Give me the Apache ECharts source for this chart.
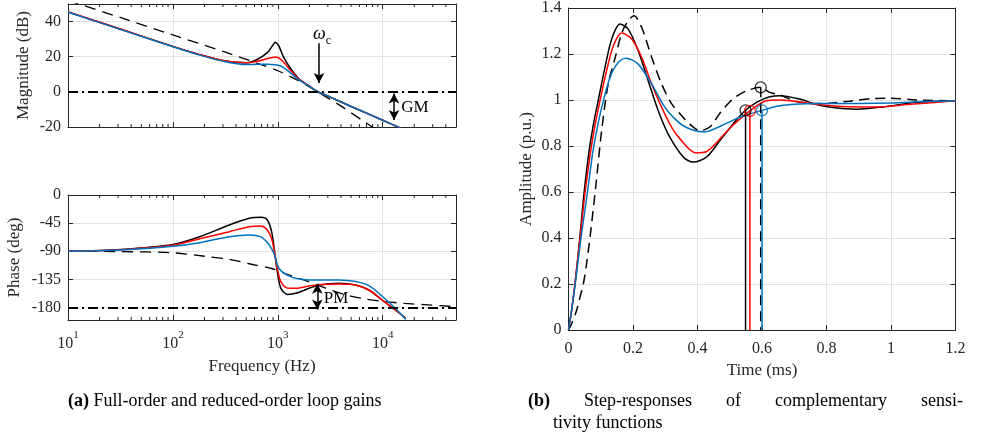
<!DOCTYPE html>
<html><head><meta charset="utf-8">
<script src="https://cdn.jsdelivr.net/npm/echarts@6/dist/echarts.min.js"></script>
<style>html,body{margin:0;padding:0;background:#fff}#c{width:983px;height:441px}</style>
</head><body><div id="c"></div>
<script>
// ---------------- data ----------------
var magFreq  = [10, 32, 100, 180, 316, 500, 630, 800, 890, 945, 1000, 1030, 1120, 1280, 1580, 2000, 2380, 3160, 5000, 7940, 12600, 20000];
var magBlack = [45.5, 35.6, 25.9, 21.2, 17.5, 16.6, 18.3, 22.5, 26.3, 28.2, 27.0, 25.9, 20.5, 14.6, 7.6, 3.2, 0.2, -3.0, -8.3, -13.5, -18.8, -24.0];
var magRed   = [45.5, 35.6, 25.9, 21.2, 17.5, 16.5, 17.3, 19.0, 19.6, 19.8, 19.6, 19.2, 17.3, 13.2, 7.4, 3.2, 0.2, -3.0, -8.3, -13.5, -18.8, -24.0];
var magBlue  = [45.3, 35.4, 25.7, 20.9, 17.1, 15.5, 15.7, 15.7, 15.5, 15.4, 15.2, 15.0, 14.1, 11.5, 7.0, 3.1, 0.2, -3.0, -8.3, -13.5, -18.8, -24.0];
var magRefFreq = [10, 32, 100, 316, 630, 1000, 1580, 2510, 3980, 6310, 10000];
var magRef     = [52, 42.2, 32.4, 22.6, 16.4, 12.0, 6.3, -0.7, -8.0, -16.0, -24.0];

var phFreq  = [10, 32, 100, 180, 345, 535, 690, 795, 880, 945, 995, 1070, 1240, 1480, 1990, 2470, 3830, 5520, 7380, 9890, 13200, 16600];
var phBlack = [-90, -87, -79, -66.7, -48, -37.3, -35.7, -40, -61.3, -98.7, -125.3, -149.3, -159, -157.3, -149.3, -144, -141.3, -144, -152, -168, -184, -197.3];
var phRed   = [-90, -87.5, -80.5, -70, -58.7, -50.7, -49.6, -56, -72, -98.7, -120, -138.7, -149, -149.3, -145.6, -143.5, -142.4, -144, -152, -168, -184, -197.3];
var phBlue  = [-90, -88, -82, -76.3, -66.7, -64, -67, -76, -87, -98.7, -113, -121, -128.5, -133.3, -136, -136, -136, -138.5, -145, -162, -181.3, -199];
var phRefFreq = [10, 32, 100, 200, 345, 535, 890, 1190, 1850, 2860, 4430, 6860, 10600, 16400, 25000, 50000];
var phRef     = [-90, -90.5, -92.5, -98, -103, -110, -118, -126, -137, -149, -159.5, -166.5, -170.7, -173.5, -175.5, -178.5];

var minorFreqs = [20,30,40,50,60,70,80,90,200,300,400,500,600,700,800,900,2000,3000,4000,5000,6000,7000,8000,9000,20000,30000,40000];
var magTicks = [-20, 0, 20, 40];
var phTicks  = [-180, -135, -90, -45, 0];

var tBlack = [0, 0.01, 0.02, 0.035, 0.0485, 0.065, 0.08, 0.0924, 0.113, 0.134, 0.1596, 0.185, 0.216, 0.247, 0.278, 0.309, 0.356, 0.387, 0.428, 0.469, 0.51, 0.547, 0.583, 0.624, 0.655, 0.717, 0.769, 0.82, 0.893, 0.975, 1.079, 1.2];
var aBlack = [0, 0.09, 0.2, 0.4, 0.6, 0.79, 0.915, 1.0, 1.141, 1.265, 1.33, 1.308, 1.214, 1.084, 0.954, 0.852, 0.752, 0.73, 0.752, 0.823, 0.895, 0.953, 0.99, 1.014, 1.019, 1.004, 0.98, 0.967, 0.96, 0.97, 0.99, 0.997];
var tRed = [0, 0.01, 0.02, 0.036, 0.0516, 0.07, 0.085, 0.0976, 0.118, 0.139, 0.165, 0.196, 0.227, 0.258, 0.289, 0.32, 0.3455, 0.395, 0.428, 0.469, 0.51, 0.5625, 0.614, 0.655, 0.759, 0.85, 0.95, 1.05, 1.2];
var aRed = [0, 0.09, 0.2, 0.4, 0.6, 0.79, 0.91, 0.997, 1.127, 1.235, 1.291, 1.265, 1.185, 1.069, 0.968, 0.881, 0.831, 0.77, 0.776, 0.83, 0.89, 0.953, 0.997, 1.0, 0.983, 0.972, 0.97, 0.98, 0.997];
var tBlue = [0, 0.01, 0.02, 0.0387, 0.0589, 0.075, 0.09, 0.103, 0.1286, 0.154, 0.178, 0.216, 0.258, 0.299, 0.33, 0.356, 0.39, 0.423, 0.469, 0.531, 0.6, 0.655, 0.72, 0.8, 0.9, 1.0, 1.1, 1.2];
var aBlue = [0, 0.09, 0.19, 0.4, 0.6, 0.77, 0.885, 0.968, 1.098, 1.163, 1.182, 1.156, 1.069, 0.968, 0.918, 0.888, 0.867, 0.861, 0.885, 0.925, 0.955, 0.975, 0.983, 0.985, 0.985, 0.987, 0.993, 0.997];
var tRef = [0, 0.01, 0.025, 0.0356, 0.046, 0.056, 0.069, 0.0857, 0.103, 0.123, 0.144, 0.165, 0.185, 0.203, 0.227, 0.258, 0.289, 0.32, 0.351, 0.38, 0.4075, 0.44, 0.469, 0.494, 0.516, 0.552, 0.596, 0.624, 0.655, 0.686, 0.717, 0.8, 0.87, 0.95, 1.0, 1.08, 1.2];
var aRef = [0, 0.028, 0.085, 0.143, 0.2, 0.288, 0.43, 0.64, 0.87, 1.07, 1.18, 1.29, 1.345, 1.366, 1.315, 1.185, 1.069, 0.983, 0.932, 0.89, 0.866, 0.885, 0.942, 0.983, 1.011, 1.04, 1.055, 1.033, 1.023, 1.004, 0.99, 0.985, 0.995, 1.007, 1.008, 1.0, 0.997];

var settleT = [0.549, 0.5625, 0.6, 0.596];
var settleA = [0.955, 0.953, 0.955, 1.055];

// annotation anchors (data coordinates)
var wcArrow = {f: 2470, from: 27.7, to: 5};
var gmArrow = {f: 12830, from: -1, to: -16};
var pmArrow = {f: 2380, from: -142, to: -183};
var wcText = [2640, 31.8], gmText = [20300, -9.2], pmText = [3590, -166.4];

var captionA = ['(a)', 'Full-order and reduced-order loop gains'];
var captionB1 = ['(b)', 'Step-responses', 'of', 'complementary', 'sensi-'];
var captionB2 = 'tivity functions';

// ---------------- styles ----------------
var FONT = 'Liberation Serif';
var AX = '#262626', GRIDC = '#e2e2e2';
var BLACK = '#000000', RED = '#ff0000', BLUE = '#0072bd';
var settleColors = [BLACK, RED, BLUE, BLACK];
var settleDashed = [false, false, false, true];
var DASH = [11, 7], DASHDOT = [10, 4, 2, 4];

function zip(x, y) { return x.map(function (v, i) { return [v, y[i]]; }); }

function logX(gi, pos, showLabel, name, gap) {
  return {
    type: 'log', logBase: 10, gridIndex: gi, position: pos, min: 10, max: 50000,
    axisLine: {show: true, onZero: false, lineStyle: {color: AX, width: 1}},
    axisTick: {show: true, inside: true, length: 5, lineStyle: {color: AX}},
    axisLabel: {
      show: showLabel, margin: 10, color: AX, fontFamily: FONT, fontSize: 16,
      formatter: function (v) {
        var e = Math.log(v) / Math.LN10;
        if (Math.abs(e - Math.round(e)) > 1e-6) return '';
        return '{b|10}{s|' + Math.round(e) + '}';
      },
      rich: {
        b: {fontFamily: FONT, fontSize: 16, color: AX, lineHeight: 22, verticalAlign: 'bottom'},
        s: {fontFamily: FONT, fontSize: 11, color: AX, lineHeight: 22, verticalAlign: 'top'}
      }
    },
    splitLine: {show: pos === 'bottom', lineStyle: {color: GRIDC, width: 1}},
    name: name || '', nameLocation: 'middle', nameGap: gap || 0,
    nameTextStyle: {fontFamily: FONT, fontSize: 17, color: AX}
  };
}
function valAx(gi, pos, min, max, ticks, interval, showLabel, name, gap, margin) {
  var o = {
    type: 'value', gridIndex: gi, position: pos, min: min, max: max,
    axisLine: {show: true, onZero: false, lineStyle: {color: AX, width: 1}},
    axisTick: {show: true, inside: true, length: 5, lineStyle: {color: AX}},
    axisLabel: {show: showLabel, margin: margin || 7, color: AX, fontFamily: FONT, fontSize: 16},
    splitLine: {show: pos === 'left' || pos === 'bottom', lineStyle: {color: GRIDC, width: 1}},
    name: name || '', nameLocation: 'middle', nameGap: gap || 0,
    nameTextStyle: {fontFamily: FONT, fontSize: 17, color: AX}
  };
  if (ticks) { o.axisTick.customValues = ticks; o.axisLabel.customValues = ticks; }
  if (interval) o.interval = interval;
  return o;
}
function lineS(xi, yi, data, color, type, width, z) {
  return {type: 'line', xAxisIndex: xi, yAxisIndex: yi, data: data, symbol: 'none', showSymbol: false,
    smooth: 0.3, silent: true, animation: false, z: z || 2,
    lineStyle: {color: color, width: width || 1.5, type: type || 'solid'}};
}
function minorS(xi, yi, yv) {
  return {
    type: 'custom', xAxisIndex: xi, yAxisIndex: yi, silent: true, animation: false, z: 6, clip: false,
    data: minorFreqs.map(function (f) { return [f, yv]; }),
    renderItem: function (params, api) {
      var x = api.coord([api.value(0), api.value(1)])[0];
      var cs = params.coordSys;
      return {type: 'group', children: [
        {type: 'line', shape: {x1: x, y1: cs.y + cs.height, x2: x, y2: cs.y + cs.height - 3}, style: {stroke: AX, lineWidth: 1}},
        {type: 'line', shape: {x1: x, y1: cs.y, x2: x, y2: cs.y + 3}, style: {stroke: AX, lineWidth: 1}}
      ]};
    }
  };
}
function annoS(xi, yi, lines, points) {
  return {
    type: 'line', xAxisIndex: xi, yAxisIndex: yi, data: [], silent: true, animation: false, z: 8,
    markLine: {silent: true, animation: false, symbol: 'none', label: {show: false}, emphasis: {disabled: true}, data: lines},
    markPoint: {silent: true, animation: false, symbol: 'rect', symbolSize: 1, itemStyle: {color: 'rgba(0,0,0,0)'}, data: points || []}
  };
}
function arrowLine(f, a, b, both) {
  return [
    {coord: [f, a], symbol: both ? 'arrow' : 'none', symbolSize: [8, 10], lineStyle: {color: BLACK, width: 1.5, type: 'solid'}},
    {coord: [f, b], symbol: 'arrow', symbolSize: [8, 10]}
  ];
}
function textPt(c, fmt, rich) {
  return {coord: c, label: {show: true, position: 'inside', formatter: fmt, color: BLACK, fontFamily: FONT, fontSize: 17, rich: rich || {}}};
}

var series = [
  // magnitude
  lineS(0, 0, zip(magRefFreq, magRef), BLACK, DASH, 1.3, 2),
  lineS(0, 0, zip(magFreq, magBlack), BLACK, 'solid', 1.5, 3),
  lineS(0, 0, zip(magFreq, magRed), RED, 'solid', 1.5, 3),
  lineS(0, 0, zip(magFreq, magBlue), BLUE, 'solid', 1.5, 3),
  annoS(0, 0, [
    {yAxis: 0, lineStyle: {color: BLACK, width: 2, type: DASHDOT}},
    arrowLine(wcArrow.f, wcArrow.from, wcArrow.to, false),
    arrowLine(gmArrow.f, gmArrow.from, gmArrow.to, true)
  ], [
    textPt(wcText, '{w|ω}{c|c}', {w: {fontFamily: FONT, fontSize: 18, fontStyle: 'italic', color: BLACK, lineHeight: 22, verticalAlign: 'top'}, c: {fontFamily: FONT, fontSize: 12, color: BLACK, lineHeight: 22, verticalAlign: 'bottom'}}),
    textPt(gmText, 'GM')
  ]),
  minorS(0, 0, 0),
  // phase
  lineS(2, 2, zip(phRefFreq, phRef), BLACK, DASH, 1.3, 2),
  lineS(2, 2, zip(phFreq, phBlack), BLACK, 'solid', 1.5, 3),
  lineS(2, 2, zip(phFreq, phRed), RED, 'solid', 1.5, 3),
  lineS(2, 2, zip(phFreq, phBlue), BLUE, 'solid', 1.5, 3),
  annoS(2, 2, [
    {yAxis: -180, lineStyle: {color: BLACK, width: 2, type: DASHDOT}},
    arrowLine(pmArrow.f, pmArrow.from, pmArrow.to, true)
  ], [textPt(pmText, 'PM')]),
  minorS(2, 2, -100),
  // step
  lineS(4, 4, zip(tRef, aRef), BLACK, [10, 6], 1.5, 2),
  lineS(4, 4, zip(tBlack, aBlack), BLACK, 'solid', 1.5, 3),
  lineS(4, 4, zip(tRed, aRed), RED, 'solid', 1.5, 3),
  lineS(4, 4, zip(tBlue, aBlue), BLUE, 'solid', 1.5, 3)
];
// settling markers: vertical lines and circles
[3, 0, 1, 2].forEach(function (i) {
  var s = lineS(4, 4, [[settleT[i], settleA[i]], [settleT[i], 0]], settleColors[i], settleDashed[i] ? [10, 6] : 'solid', 1.5, 4);
  s.smooth = false;
  series.push(s);
});
series.push({
  type: 'scatter', xAxisIndex: 4, yAxisIndex: 4, silent: true, animation: false, z: 5,
  symbol: 'circle', symbolSize: 11,
  data: settleT.map(function (t, i) {
    return {value: [t, settleA[i]], itemStyle: {color: 'rgba(0,0,0,0)', borderColor: settleColors[i], borderWidth: 1.3}};
  })
});

var CAPF = 18;
var capStyle = {fontFamily: FONT, fontSize: CAPF, fontWeight: 'normal', color: '#000',
  rich: {
    b: {fontFamily: FONT, fontSize: CAPF, fontWeight: 'bold', color: '#000'},
    t: {fontFamily: FONT, fontSize: CAPF, color: '#000'},
    g: {fontFamily: FONT, fontSize: CAPF, width: 34}
  }};

var option = {
  animation: false,
  backgroundColor: '#ffffff',
  title: [
    {left: 68, top: 392, padding: 0, text: '{b|' + captionA[0] + '} ' + captionA[1], textStyle: capStyle},
    {left: 528, top: 392, padding: 0,
     text: '{b|' + captionB1[0] + '}' + captionB1.slice(1).map(function (w) { return '{g| }{t|' + w + '}'; }).join(''),
     textStyle: capStyle},
    {left: 553, top: 414, padding: 0, text: captionB2, textStyle: capStyle}
  ],
  grid: [
    {left: 68, top: 4, width: 388, height: 123},
    {left: 68, top: 195, width: 388, height: 125},
    {left: 568.5, top: 7, width: 387, height: 323}
  ],
  xAxis: [
    logX(0, 'bottom', false),
    logX(0, 'top', false),
    logX(1, 'bottom', true, 'Frequency (Hz)', 38),
    logX(1, 'top', false),
    valAx(2, 'bottom', 0, 1.2, null, 0.2, true, 'Time (ms)', 31, 11),
    valAx(2, 'top', 0, 1.2, null, 0.2, false)
  ],
  yAxis: [
    valAx(0, 'left', -20, 50, magTicks, null, true, 'Magnitude (dB)', 36),
    valAx(0, 'right', -20, 50, magTicks, null, false),
    valAx(1, 'left', -200, 0, phTicks, null, true, 'Phase (deg)', 45),
    valAx(1, 'right', -200, 0, phTicks, null, false),
    valAx(2, 'left', 0, 1.4, null, 0.2, true, 'Amplitude (p.u.)', 33),
    valAx(2, 'right', 0, 1.4, null, 0.2, false)
  ],
  series: series
};

var chart = echarts.init(document.getElementById('c'), null, {renderer: 'canvas'});
chart.setOption(option);
</script></body></html>
